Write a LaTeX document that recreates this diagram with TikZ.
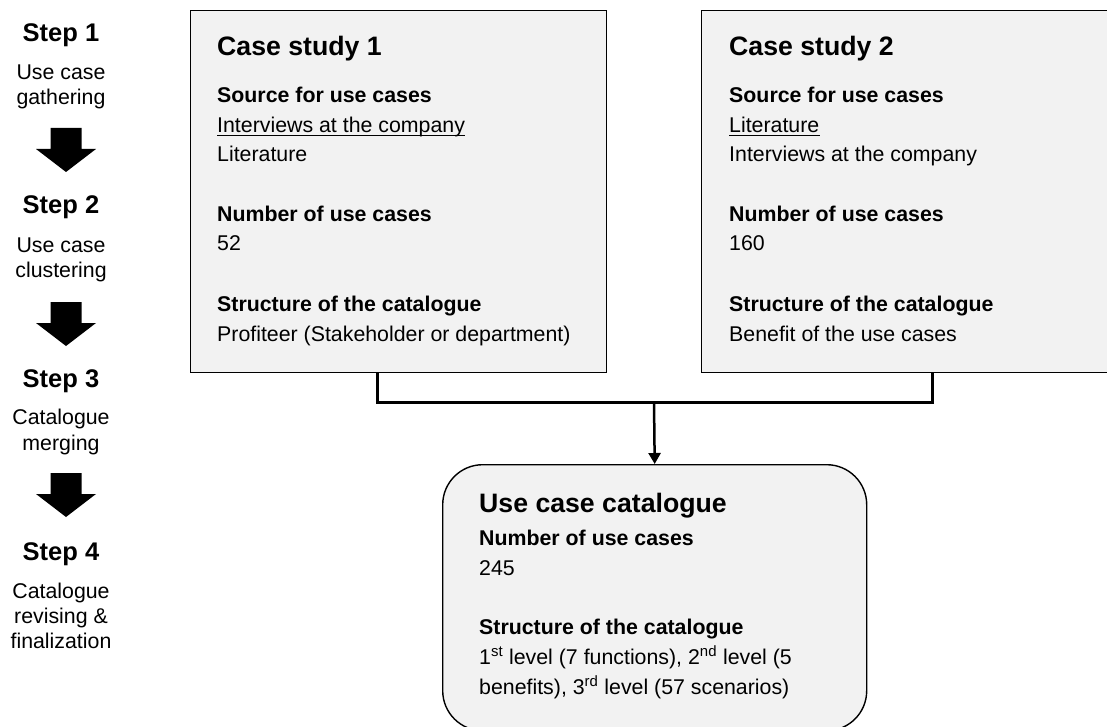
\documentclass[tikz,border=0pt]{standalone}
\usepackage{fontspec}
\setmainfont{Liberation Sans}
\usetikzlibrary{arrows.meta}
\definecolor{boxfill}{HTML}{F2F2F2}
\begin{document}
\begin{tikzpicture}[x=1pt,y=1pt,
  casebox/.style={draw=black, line width=1.4pt, fill=boxfill, rectangle, inner sep=0pt},
  txt/.style={anchor=base west, inner sep=0pt, font=\fontsize{21.33}{25}\selectfont},
  hd/.style={anchor=base west, inner sep=0pt, font=\bfseries\fontsize{21.33}{25}\selectfont},
  title/.style={anchor=base west, inner sep=0pt, font=\bfseries\fontsize{26.67}{30}\selectfont},
  steplbl/.style={anchor=base, inner sep=0pt, font=\bfseries\fontsize{25.5}{30}\selectfont},
  stepdesc/.style={anchor=base, inner sep=0pt, font=\fontsize{21.33}{25}\selectfont},
  blockarrow/.style={fill=black},
  bracket/.style={line width=3pt, line join=miter},
  uline/.style={line width=1.4pt},
  flowarrow/.style={line width=2.5pt, -{Triangle[length=11pt,width=12pt]}},
  ]
\useasboundingbox (0,0) rectangle (1107,-727);

% boxes
\node[casebox, minimum width=416pt, minimum height=362pt, anchor=north west] (box1) at (190,-10) {};
\node[casebox, minimum width=416pt, minimum height=362pt, anchor=north west] (box2) at (701,-10) {};
\node[casebox, rounded corners=40pt, minimum width=424pt, minimum height=266pt, anchor=north west] (cat) at (442,-464) {};

% case study 1
\node[title] (c1t) at (217,-56) {Case study 1};
\node[hd] (c1s) at (217,-103) {Source for use cases};
\node[txt] (c1a) at (217,-133) {Interviews at the company};
\node[txt] (c1b) at (217,-162) {Literature};
\node[hd] (c1n) at (217,-222) {Number of use cases};
\node[txt] (c1v) at (217,-251) {52};
\node[hd] (c1k) at (217,-311) {Structure of the catalogue};
\node[txt] (c1p) at (217,-341) {Profiteer (Stakeholder or department)};
\draw[uline] ([yshift=-2.8pt]c1a.base west) -- ([yshift=-2.8pt]c1a.base east);

% case study 2
\node[title] (c2t) at (729,-56) {Case study 2};
\node[hd] (c2s) at (729,-103) {Source for use cases};
\node[txt] (c2a) at (729,-133) {Literature};
\node[txt] (c2b) at (729,-162) {Interviews at the company};
\node[hd] (c2n) at (729,-222) {Number of use cases};
\node[txt] (c2v) at (729,-251) {160};
\node[hd] (c2k) at (729,-311) {Structure of the catalogue};
\node[txt] (c2p) at (729,-341) {Benefit of the use cases};
\draw[uline] ([yshift=-2.8pt]c2a.base west) -- ([yshift=-2.8pt]c2a.base east);

% catalogue
\node[title] (ct) at (479,-512) {Use case catalogue};
\node[hd] (cn) at (479,-545) {Number of use cases};
\node[txt] (cv) at (479,-575) {245};
\node[hd] (ck) at (479,-634) {Structure of the catalogue};
\node[txt] (cl1) at (479,-664) {1\textsuperscript{st} level (7 functions), 2\textsuperscript{nd} level (5};
\node[txt] (cl2) at (479,-694) {benefits), 3\textsuperscript{rd} level (57 scenarios)};

% connectors
\coordinate (j1) at (377,-402);
\coordinate (j2) at (932,-402);
\coordinate (jm) at (654,-402);
\draw[bracket] (box1.south -| j1) -- (j1) -- (j2) -- (box2.south -| j2);
\draw[flowarrow] (jm) -- (cat.north);

% steps
\node[steplbl] (s1) at (61,-42) {Step 1};
\node[stepdesc] (s1a) at (61,-80) {Use case};
\node[stepdesc] (s1b) at (61,-105) {gathering};

\node[steplbl] (s2) at (61,-214) {Step 2};
\node[stepdesc] (s2a) at (61,-252) {Use case};
\node[stepdesc] (s2b) at (61,-277) {clustering};

\node[steplbl] (s3) at (61,-387) {Step 3};
\node[stepdesc] (s3a) at (61,-424) {Catalogue};
\node[stepdesc] (s3b) at (61,-450) {merging};

\node[steplbl] (s4) at (61,-560) {Step 4};
\node[stepdesc] (s4a) at (61,-598) {Catalogue};
\node[stepdesc] (s4b) at (61,-623) {revising \&};
\node[stepdesc] (s4c) at (61,-648) {finalization};

% block arrows between steps
\foreach \t in {128,302,473}{
  \fill[blockarrow] (50.5,-\t) -- (81.5,-\t) -- (81.5,-\t-21) -- (96,-\t-21)
    -- (66,-\t-44) -- (36,-\t-21) -- (50.5,-\t-21) -- cycle;
}
\end{tikzpicture}
\end{document}
